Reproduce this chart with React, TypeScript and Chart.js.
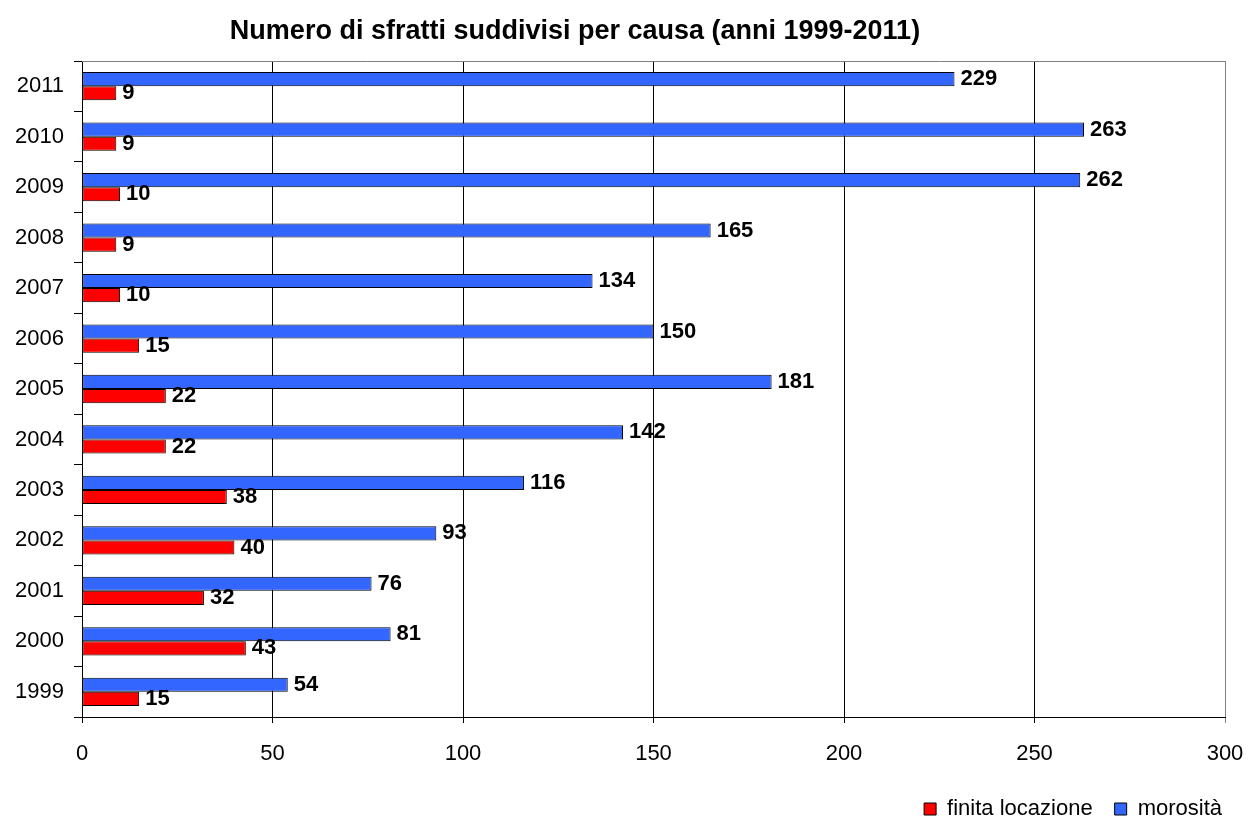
import React, { useEffect, useRef } from "react";
import { Chart, registerables } from "chart.js";

Chart.register(...registerables);

const years = ["2011", "2010", "2009", "2008", "2007", "2006", "2005", "2004", "2003", "2002", "2001", "2000", "1999"];
const morosita = [229, 263, 262, 165, 134, 150, 181, 142, 116, 93, 76, 81, 54];
const finitaLocazione = [9, 9, 10, 9, 10, 15, 22, 22, 38, 40, 32, 43, 15];
const xTicks = [0, 50, 100, 150, 200, 250, 300];
const titleText = "Numero di sfratti suddivisi per causa (anni 1999-2011)";

const FONT = "'Liberation Sans', Arial, sans-serif";

const overlayPlugin = {
  id: "overlay",
  afterDatasetsDraw(chart: any) {
    const ctx = chart.ctx;
    ctx.save();
    ctx.font = `bold 22px ${FONT}`;
    ctx.fillStyle = "#000";
    ctx.textBaseline = "middle";
    ctx.textAlign = "left";
    chart.data.datasets.forEach((ds: any, di: number) => {
      const meta = chart.getDatasetMeta(di);
      meta.data.forEach((bar: any, i: number) => {
        ctx.fillText(String(ds.data[i]), bar.x + 6, bar.y);
      });
    });
    const a = chart.chartArea;
    ctx.strokeStyle = "#808080";
    ctx.lineWidth = 1;
    ctx.beginPath();
    ctx.moveTo(a.left, a.top + 0.5);
    ctx.lineTo(a.right + 0.5, a.top + 0.5);
    ctx.lineTo(a.right + 0.5, a.bottom);
    ctx.stroke();
    ctx.font = `bold 27px ${FONT}`;
    ctx.textAlign = "center";
    ctx.fillText(titleText, 575, 32);
    ctx.restore();
  },
};

export default function App() {
  const ref = useRef<HTMLCanvasElement>(null);
  useEffect(() => {
    document.body.style.margin = "0";
    const chart = new Chart(ref.current as HTMLCanvasElement, {
      type: "bar",
      data: {
        labels: years,
        datasets: [
          {
            label: "morosità",
            data: morosita,
            backgroundColor: "#3366FF",
            borderColor: "#000",
            borderWidth: 1,
            borderSkipped: false,
            categoryPercentage: 0.56,
            barPercentage: 1,
          },
          {
            label: "finita locazione",
            data: finitaLocazione,
            backgroundColor: "#FF0000",
            borderColor: "#000",
            borderWidth: 1,
            borderSkipped: false,
            categoryPercentage: 0.56,
            barPercentage: 1,
          },
        ],
      },
      options: {
        indexAxis: "y",
        responsive: false,
        animation: false,
        layout: { padding: { top: 61, right: 5, left: 0, bottom: 1 } },
        scales: {
          x: {
            min: 0,
            max: 300,
            afterBuildTicks(scale: any) {
              scale.ticks = xTicks.map((v) => ({ value: v }));
            },
            afterFit(scale: any) {
              scale.height = 59;
              scale.paddingRight = 24;
            },
            ticks: { color: "#000", font: { size: 22, family: FONT }, padding: 18 },
            grid: {
              color: (c: any) => (c.tick && c.tick.value === 300 ? "#808080" : "#000"),
              tickLength: 6,
              drawTicks: true,
            },
            border: { color: "#000" },
          },
          y: {
            afterFit(scale: any) {
              scale.width = 82;
            },
            ticks: { color: "#000", font: { size: 22, family: FONT }, padding: 10 },
            grid: { drawOnChartArea: false, drawTicks: true, tickLength: 8, color: "#000" },
            border: { color: "#000" },
          },
        },
        plugins: {
          title: { display: false },
          tooltip: { enabled: false },
          legend: {
            position: "bottom",
            align: "end",
            reverse: true,
            labels: {
              color: "#000",
              font: { size: 22, family: FONT },
              boxWidth: 12,
              boxHeight: 12,
              padding: 22,
            },
          },
        },
      },
      plugins: [overlayPlugin],
    } as any);
    return () => chart.destroy();
  }, []);
  return (
    <div style={{ width: 1249, height: 831 }}>
      <canvas ref={ref} width={1249} height={831} style={{ display: "block", fontFamily: FONT }} />
    </div>
  );
}
